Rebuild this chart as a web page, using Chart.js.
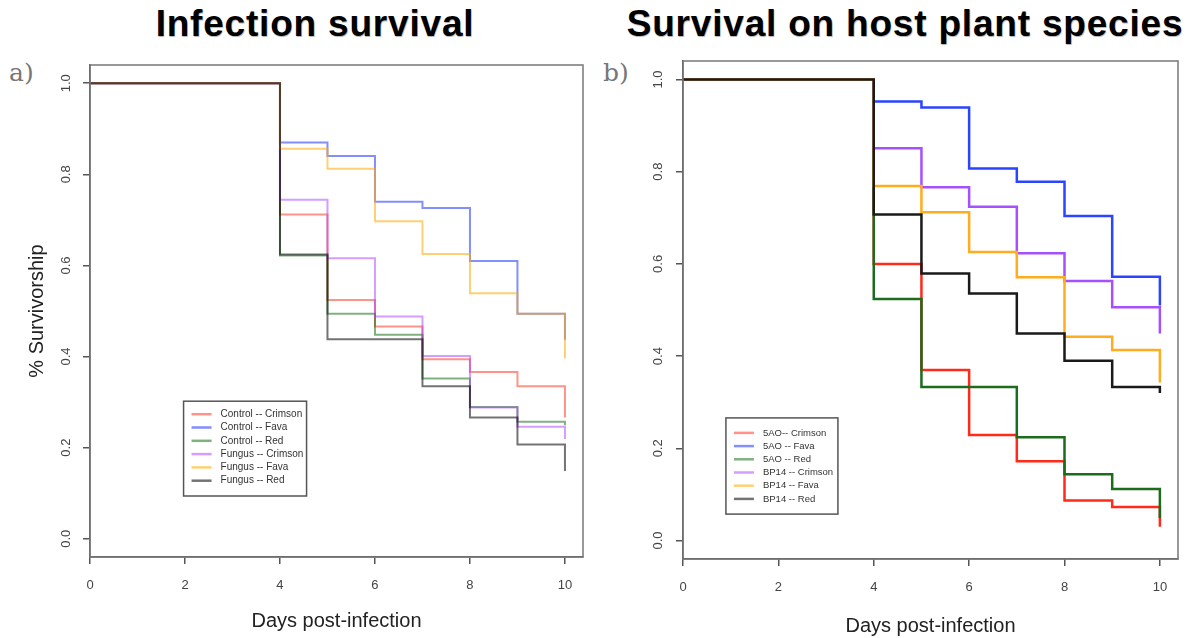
<!DOCTYPE html>
<html>
<head>
<meta charset="utf-8">
<script src="https://cdn.jsdelivr.net/npm/chart.js@4.4.1/dist/chart.umd.min.js"></script>
<style>
  body { margin: 0; width: 1190px; height: 638px; background: #fff; position: relative; overflow: hidden; font-family: "Liberation Sans", Arial, sans-serif; }
  .title { position: absolute; top: 3px; font-weight: bold; font-size: 37px; letter-spacing: 0.8px; color: #000; white-space: nowrap; transform: translateX(-50%); text-shadow: 0.6px 0.6px 0.8px rgba(0,0,0,0.3); }
  .tag { position: absolute; top: 58px; font-family: "DejaVu Serif", "Liberation Serif", serif; font-size: 25px; color: #777; }
  canvas { position: absolute; top: 0; }
</style>
</head>
<body>
<div class="title" style="left:315px">Infection survival</div>
<div class="title" style="left:905px">Survival on host plant species</div>
<div class="tag" style="left:9px">a)</div>
<div class="tag" style="left:603px">b)</div>
<canvas id="infection" width="595" height="638" style="left:0"></canvas>
<canvas id="host" width="595" height="638" style="left:595px"></canvas>
<script>
// days at which survival is recorded (first point = start)
const days = [0, 4, 5, 6, 7, 8, 9, 10];
const xTicks = [0, 2, 4, 6, 8, 10];
const yTicks = [0, 0.2, 0.4, 0.6, 0.8, 1.0];

// a) Infection survival
const infectionLabels = ['Control -- Crimson', 'Control -- Fava', 'Control -- Red', 'Fungus -- Crimson', 'Fungus -- Fava', 'Fungus -- Red'];
const controlCrimson = [1, 0.712, 0.524, 0.466, 0.394, 0.366, 0.335, 0.266];
const controlFava    = [1, 0.870, 0.840, 0.740, 0.726, 0.610, 0.494, 0.437];
const controlRed     = [1, 0.622, 0.494, 0.448, 0.352, 0.289, 0.257, 0.249];
const fungusCrimson  = [1, 0.744, 0.616, 0.488, 0.401, 0.288, 0.246, 0.219];
const fungusFava     = [1, 0.856, 0.812, 0.697, 0.625, 0.539, 0.494, 0.396];
const fungusRed      = [1, 0.624, 0.438, 0.438, 0.335, 0.266, 0.207, 0.149];

// b) Survival on host plant species
const hostLabels = ['5AO-- Crimson', '5AO -- Fava', '5AO -- Red', 'BP14 -- Crimson', 'BP14 -- Fava', 'BP14 -- Red'];
const aoCrimson   = [1, 0.600, 0.370, 0.229, 0.172, 0.087, 0.073, 0.030];
const aoFava      = [1, 0.952, 0.939, 0.807, 0.778, 0.704, 0.572, 0.510];
const aoRed       = [1, 0.524, 0.333, 0.333, 0.224, 0.144, 0.112, 0.049];
const bpCrimson   = [1, 0.851, 0.766, 0.724, 0.623, 0.563, 0.506, 0.449];
const bpFava      = [1, 0.769, 0.712, 0.626, 0.571, 0.442, 0.413, 0.343];
const bpRed       = [1, 0.707, 0.579, 0.536, 0.449, 0.390, 0.333, 0.320];

const paleColors = ['rgba(255,40,20,0.5)', 'rgba(30,50,255,0.55)', 'rgba(0,100,0,0.5)', 'rgba(170,60,255,0.5)', 'rgba(255,170,0,0.55)', 'rgba(0,0,0,0.55)'];
const fullColors = ['#ff2a1a', '#2a44ff', '#1d6b1d', '#a550ff', '#ffac1f', '#1a1a1a'];

const frameAndLegend = {
    id: 'frameAndLegend',
    afterDraw(chart, args, opts) {
        const {ctx, chartArea: a, scales: {x, y}} = chart;
        ctx.save();
        ctx.strokeStyle = '#777';
        ctx.lineWidth = 1.5;
        ctx.strokeRect(a.left, a.top, a.right - a.left, a.bottom - a.top);

        // legend box anchored in data coordinates, like R's legend(x, y)
        const lx = x.getPixelForValue(opts.at[0]);
        const ly = y.getPixelForValue(opts.at[1]);
        const sets = chart.data.datasets;
        ctx.strokeStyle = '#555';
        ctx.strokeRect(lx, ly, opts.w, opts.rowH * sets.length + opts.padTop + 2);
        ctx.font = opts.fontSize + 'px "Liberation Sans", Arial, sans-serif';
        ctx.textBaseline = 'middle';
        ctx.fillStyle = '#333';
        sets.forEach((ds, i) => {
            const ry = ly + opts.padTop + i * opts.rowH;
            ctx.strokeStyle = opts.colors[i];
            ctx.lineWidth = 2.5;
            ctx.beginPath();
            ctx.moveTo(lx + 8, ry);
            ctx.lineTo(lx + 28, ry);
            ctx.stroke();
            ctx.fillText(ds.label, lx + opts.textX, ry);
        });
        ctx.restore();
    }
};

function survivalChart(querySelection, labels, series, colors, lineWidth, box) {

    const CHART = document.querySelector(querySelection);

    const data = {
        datasets: series.map((vals, i) => ({
            label: labels[i],
            data: days.map((d, j) => ({x: d, y: vals[j]})),
            borderColor: colors[i],
            borderWidth: lineWidth,
            stepped: true,
            pointRadius: 0,
            fill: false,
            order: series.length - i
        }))
    };

    const axisColor = '#555';

    let chart = new Chart(CHART, {
        type: 'line',
        data: data,
        plugins: [frameAndLegend],
        options: {
            responsive: false,
            animation: false,
            devicePixelRatio: 1,
            layout: { padding: { left: 0, top: box.top, right: box.right, bottom: 0 } },
            plugins: {
                legend: { display: false },
                tooltip: { enabled: false },
                frameAndLegend: box.legend
            },
            scales: {
                x: {
                    type: 'linear',
                    min: 0,
                    max: 10.38,
                    afterBuildTicks: s => { s.ticks = xTicks.map(v => ({value: v})); },
                    afterFit: s => { s.height = box.xh; },
                    border: { display: true, color: axisColor, width: 1.5 },
                    grid: { drawOnChartArea: false, drawTicks: true, tickLength: 7, color: axisColor, lineWidth: 1.5 },
                    ticks: { padding: 14, color: '#444', font: { size: 13, family: '"Liberation Sans", Arial, sans-serif' }, maxRotation: 0 },
                    title: { display: true, text: 'Days post-infection', color: '#222', font: { size: 20, family: '"Liberation Sans", Arial, sans-serif' }, padding: { bottom: box.xtPad, top: 0 } }
                },
                y: {
                    type: 'linear',
                    min: -0.04,
                    max: 1.04,
                    afterBuildTicks: s => { s.ticks = yTicks.map(v => ({value: v})); },
                    afterFit: s => { s.width = box.yw; },
                    border: { display: true, color: axisColor, width: 1.5 },
                    grid: { drawOnChartArea: false, drawTicks: true, tickLength: 7, color: axisColor, lineWidth: 1.5 },
                    ticks: {
                        padding: box.ytPad,
                        crossAlign: 'center',
                        minRotation: 90,
                        maxRotation: 90,
                        color: '#444',
                        font: { size: 13, family: '"Liberation Sans", Arial, sans-serif' },
                        callback: v => v.toFixed(1)
                    },
                    title: { display: box.ytitle, text: '% Survivorship', color: '#222', font: { size: 20, family: '"Liberation Sans", Arial, sans-serif' }, padding: { top: 25 } }
                }
            }
        }
    });
    return chart;
}

survivalChart('#infection', infectionLabels,
    [controlCrimson, controlFava, controlRed, fungusCrimson, fungusFava, fungusRed],
    paleColors, 2,
    { top: 65, right: 12, xh: 81, xtPad: 5, yw: 90, ytPad: 8, ytitle: true,
      legend: { at: [1.97, 0.302], w: 123, rowH: 13.3, padTop: 13, textX: 37, fontSize: 10, colors: paleColors } });

survivalChart('#host', hostLabels,
    [aoCrimson, aoFava, aoRed, bpCrimson, bpFava, bpRed],
    fullColors, 2.5,
    { top: 61, right: 12, xh: 79, xtPad: 0, yw: 88, ytPad: 9, ytitle: false,
      legend: { at: [0.9, 0.266], w: 112, rowH: 13.2, padTop: 15, textX: 37, fontSize: 9.5, colors: paleColors } });
</script>
</body>
</html>
